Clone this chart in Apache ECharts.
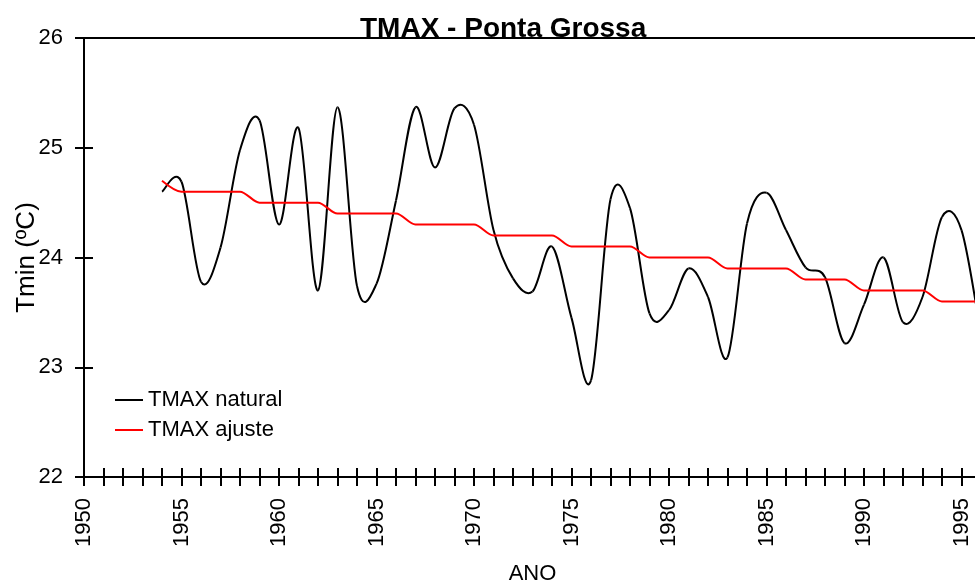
<!DOCTYPE html>
<html><head><meta charset="utf-8">
<script src="https://cdn.jsdelivr.net/npm/echarts@6/dist/echarts.min.js"></script>
<style>html,body{margin:0;padding:0;background:#fff}#c{width:975px;height:588px}</style>
</head><body><div id="c"></div>
<script>
const years = [1954,1955,1956,1957,1958,1959,1960,1961,1962,1963,1964,1965,1966,1967,1968,1969,1970,1971,1972,1973,1974,1975,1976,1977,1978,1979,1980,1981,1982,1983,1984,1985,1986,1987,1988,1989,1990,1991,1992,1993,1994,1995,1996];
const tmaxNatural = [24.6,24.69,23.78,24.09,24.98,25.25,24.3,25.18,23.7,25.37,23.74,23.76,24.52,25.37,24.82,25.36,25.21,24.25,23.81,23.69,24.1,23.45,22.88,24.53,24.45,23.49,23.52,23.9,23.64,23.09,24.31,24.59,24.25,23.91,23.82,23.22,23.57,24.0,23.41,23.64,24.37,24.25,23.3];
const tmaxAjuste = [24.7,24.6,24.6,24.6,24.6,24.5,24.5,24.5,24.5,24.4,24.4,24.4,24.4,24.3,24.3,24.3,24.3,24.2,24.2,24.2,24.2,24.1,24.1,24.1,24.1,24.0,24.0,24.0,24.0,23.9,23.9,23.9,23.9,23.8,23.8,23.8,23.7,23.7,23.7,23.7,23.6,23.6,23.6];
const xTickLabels = [1950,1955,1960,1965,1970,1975,1980,1985,1990,1995];
const yTickLabels = [22,23,24,25,26];
const seriesNames = ['TMAX natural','TMAX ajuste'];

const FONT = 'Liberation Sans, Arial, sans-serif';
const chart = echarts.init(document.getElementById('c'), null, {renderer:'canvas'});
const pair = (xs, ys) => xs.map((x,i)=>[x, ys[i]]);
const xBase = {
  type:'value', min:1950, max:1996, interval:1, position:'bottom',
  splitLine:{show:false}
};
const yBase = {
  type:'value', min:22, max:26, interval:1, position:'left',
  splitLine:{show:false}
};
// Smooth (Catmull-Rom) curve segment between consecutive data points, via the axis scales
function splineItem(xs, ys, color) {
  return function (params, api) {
    const i = params.dataIndex;
    if (i >= xs.length - 1) return null;
    const P = k => { k = Math.max(0, Math.min(xs.length - 1, k)); return api.coord([xs[k], ys[k]]); };
    const p0 = P(i - 1), p1 = api.coord([api.value(0), api.value(1)]), p2 = P(i + 1), p3 = P(i + 2);
    return {
      type:'bezierCurve',
      shape:{
        x1:p1[0], y1:p1[1], x2:p2[0], y2:p2[1],
        cpx1:p1[0] + (p2[0] - p0[0]) / 6, cpy1:p1[1] + (p2[1] - p0[1]) / 6,
        cpx2:p2[0] - (p3[0] - p1[0]) / 6, cpy2:p2[1] - (p3[1] - p1[1]) / 6
      },
      style:{stroke:color, lineWidth:2, fill:'none'}
    };
  };
}
chart.setOption({
  animation:false,
  backgroundColor:'#fff',
  title:{
    text:'TMAX - Ponta Grossa', left:355, top:10,
    textStyle:{fontFamily:FONT, fontSize:28, fontWeight:'bold', color:'#000'}
  },
  grid:{left:84, right:-6, top:38, bottom:111, outerBoundsMode:'none', containLabel:false,
    show:true, borderColor:'#000', borderWidth:2, backgroundColor:'transparent'},
  legend:{
    orient:'vertical', left:115, top:389, itemWidth:28, itemHeight:2, itemGap:8, padding:0,
    icon:'rect',
    data:seriesNames,
    textStyle:{fontFamily:FONT, fontSize:22, color:'#000', lineHeight:22}
  },
  xAxis:[
    Object.assign({}, xBase, {
      name:'ANO', nameLocation:'middle', nameGap:86, nameMoveOverlap:false,
      nameTextStyle:{fontFamily:FONT, fontSize:22, color:'#000'},
      axisLine:{show:true, lineStyle:{color:'#000', width:2}},
      axisTick:{show:true, inside:false, length:9, lineStyle:{color:'#000', width:2}},
      axisLabel:{show:true, rotate:90, margin:21, fontFamily:FONT, fontSize:22, color:'#000',
        formatter:v => xTickLabels.indexOf(v) >= 0 ? String(v) : ''}
    }),
    Object.assign({}, xBase, {
      axisLine:{show:false},
      axisTick:{show:true, inside:true, length:9, lineStyle:{color:'#000', width:2}},
      axisLabel:{show:false}
    })
  ],
  yAxis:[
    Object.assign({}, yBase, {
      name:'Tmin (ºC)', nameLocation:'middle', nameGap:44, nameRotate:90, nameMoveOverlap:false,
      nameTextStyle:{fontFamily:FONT, fontSize:26, color:'#000'},
      axisLine:{show:true, lineStyle:{color:'#000', width:2}},
      axisTick:{show:true, inside:false, length:9, lineStyle:{color:'#000', width:2}},
      axisLabel:{show:true, margin:21, fontFamily:FONT, fontSize:22, color:'#000',
        formatter:v => yTickLabels.indexOf(v) >= 0 ? String(v) : ''}
    }),
    Object.assign({}, yBase, {
      axisLine:{show:false},
      axisTick:{show:true, inside:true, length:9, lineStyle:{color:'#000', width:2}},
      axisLabel:{show:false}
    })
  ],
  series:[
    {name:seriesNames[0], type:'custom', xAxisIndex:0, yAxisIndex:0, data:pair(years, tmaxNatural),
      encode:{x:0, y:1}, itemStyle:{color:'#000'}, renderItem:splineItem(years, tmaxNatural, '#000')},
    {name:seriesNames[1], type:'line', xAxisIndex:0, yAxisIndex:0, data:pair(years, tmaxAjuste),
      smooth:0.3, showSymbol:false, symbol:'none', lineStyle:{color:'#ff0000', width:2}, itemStyle:{color:'#ff0000'}}
  ]
});
</script></body></html>
